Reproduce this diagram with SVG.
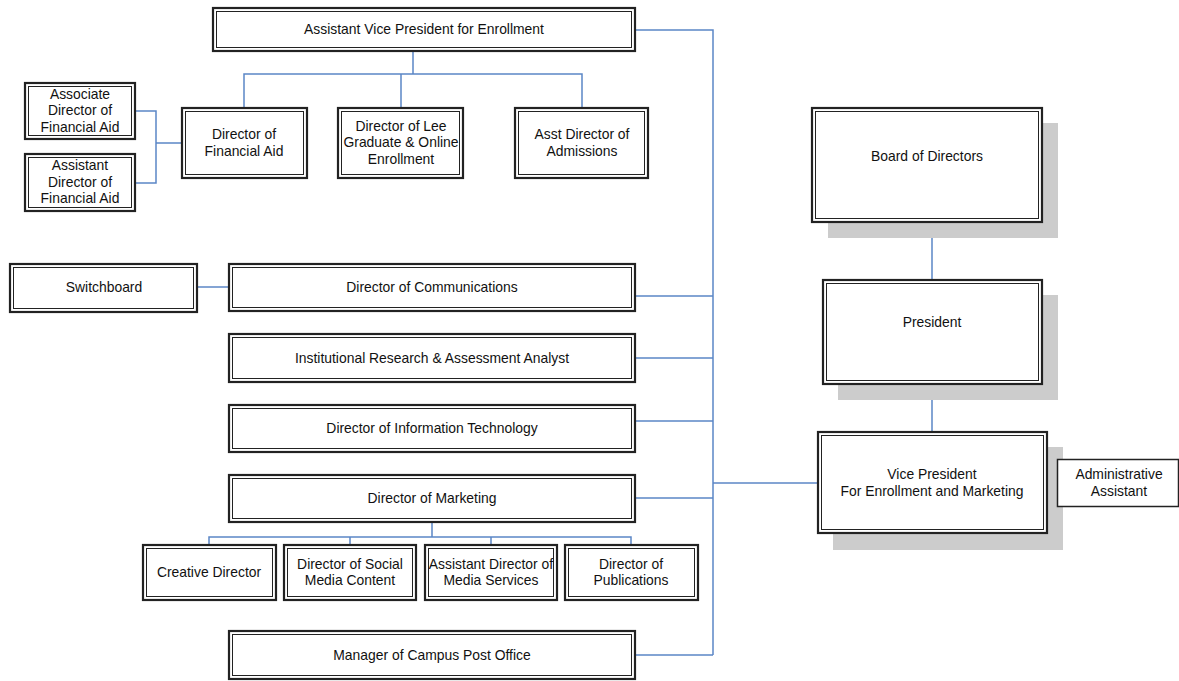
<svg xmlns="http://www.w3.org/2000/svg" width="1179" height="681" viewBox="0 0 1179 681">
<style>
.o{fill:#fff;stroke:#222;stroke-width:2.2}
.i{fill:none;stroke:#222;stroke-width:1}
.s{fill:#cccccc;stroke:none}
.c{fill:none;stroke:#5b86c6;stroke-width:1.5}
text{font-family:"Liberation Sans",Arial,sans-serif;font-size:13.9px;fill:#111;text-anchor:middle}
</style>
<rect width="1179" height="681" fill="#fff"/>
<g id="connectors">
<path class="c" d="M635,30 H713 V655"/>
<path class="c" d="M413,51 V74 M244,108 V74 H582 V108 M401,74 V108"/>
<path class="c" d="M135,111 H156 V183 H135 M156,143 H182"/>
<path class="c" d="M197,287 H229"/>
<path class="c" d="M635,296 H713 M635,358 H713 M635,421 H713 M635,498 H713 M635,655 H713"/>
<path class="c" d="M432,522 V537 M209,545 V537 H631 V545 M350,537 V545 M491,537 V545"/>
<path class="c" d="M713,483 H818"/>
<path class="c" d="M932,222 V280 M932,384 V432"/>
<path class="c" d="M1047,483 H1057"/>
</g>
<g id="avp"><rect class="o" x="213" y="8" width="422" height="43"/><rect class="i" x="216.5" y="11.5" width="415" height="36"/><text x="424" y="34">Assistant Vice President for Enrollment</text></g>
<g id="dfa"><rect class="o" x="182" y="108" width="125" height="70"/><rect class="i" x="185.5" y="111.5" width="118" height="63"/><text x="244" y="139">Director of</text><text x="244" y="156">Financial Aid</text></g>
<g id="dlee"><rect class="o" x="338" y="108" width="125" height="70"/><rect class="i" x="341.5" y="111.5" width="118" height="63"/><text x="401" y="131">Director of Lee</text><text x="401" y="147">Graduate &amp; Online</text><text x="401" y="164">Enrollment</text></g>
<g id="ada"><rect class="o" x="515" y="108" width="133" height="70"/><rect class="i" x="518.5" y="111.5" width="126" height="63"/><text x="582" y="139">Asst Director of</text><text x="582" y="156">Admissions</text></g>
<g id="assocdfa"><rect class="o" x="25" y="83" width="110" height="56"/><rect class="i" x="28.5" y="86.5" width="103" height="49"/><text x="80" y="99">Associate</text><text x="80" y="115">Director of</text><text x="80" y="132">Financial Aid</text></g>
<g id="asstdfa"><rect class="o" x="25" y="154" width="110" height="57"/><rect class="i" x="28.5" y="157.5" width="103" height="50"/><text x="80" y="170">Assistant</text><text x="80" y="187">Director of</text><text x="80" y="203">Financial Aid</text></g>
<g id="switchboard"><rect class="o" x="10" y="264" width="187" height="48"/><rect class="i" x="13.5" y="267.5" width="180" height="41"/><text x="104" y="292">Switchboard</text></g>
<g id="comm"><rect class="o" x="229" y="264" width="406" height="47"/><rect class="i" x="232.5" y="267.5" width="399" height="40"/><text x="432" y="292">Director of Communications</text></g>
<g id="ir"><rect class="o" x="229" y="334" width="406" height="48"/><rect class="i" x="232.5" y="337.5" width="399" height="41"/><text x="432" y="363">Institutional Research &amp; Assessment Analyst</text></g>
<g id="it"><rect class="o" x="229" y="405" width="406" height="47"/><rect class="i" x="232.5" y="408.5" width="399" height="40"/><text x="432" y="433">Director of Information Technology</text></g>
<g id="mkt"><rect class="o" x="229" y="475" width="406" height="47"/><rect class="i" x="232.5" y="478.5" width="399" height="40"/><text x="432" y="503">Director of Marketing</text></g>
<g id="creative"><rect class="o" x="143" y="545" width="133" height="55"/><rect class="i" x="146.5" y="548.5" width="126" height="48"/><text x="209" y="577">Creative Director</text></g>
<g id="social"><rect class="o" x="284" y="545" width="132" height="55"/><rect class="i" x="287.5" y="548.5" width="125" height="48"/><text x="350" y="569">Director of Social</text><text x="350" y="585">Media Content</text></g>
<g id="media"><rect class="o" x="425" y="545" width="132" height="55"/><rect class="i" x="428.5" y="548.5" width="125" height="48"/><text x="491" y="569">Assistant Director of</text><text x="491" y="585">Media Services</text></g>
<g id="pubs"><rect class="o" x="565" y="545" width="133" height="55"/><rect class="i" x="568.5" y="548.5" width="126" height="48"/><text x="631" y="569">Director of</text><text x="631" y="585">Publications</text></g>
<g id="post"><rect class="o" x="229" y="631" width="406" height="48"/><rect class="i" x="232.5" y="634.5" width="399" height="41"/><text x="432" y="660">Manager of Campus Post Office</text></g>
<g id="board"><rect class="s" x="828" y="123" width="230" height="115"/><rect class="o" x="812" y="108" width="230" height="114"/><rect class="i" x="815.5" y="111.5" width="223" height="107"/><text x="927" y="161">Board of Directors</text></g>
<g id="president"><rect class="s" x="838" y="295" width="220" height="105"/><rect class="o" x="823" y="280" width="219" height="104"/><rect class="i" x="826.5" y="283.5" width="212" height="97"/><text x="932" y="327">President</text></g>
<g id="vp"><rect class="s" x="833" y="447" width="230" height="103"/><rect class="o" x="818" y="432" width="229" height="101"/><rect class="i" x="821.5" y="435.5" width="222" height="94"/><text x="932" y="479">Vice President</text><text x="932" y="496">For Enrollment and Marketing</text></g>
<g id="admin"><rect x="1057.5" y="459.5" width="121" height="47" fill="#fff" stroke="#222" stroke-width="1.5"/><text x="1119" y="479">Administrative</text><text x="1119" y="496">Assistant</text></g>
</svg>
